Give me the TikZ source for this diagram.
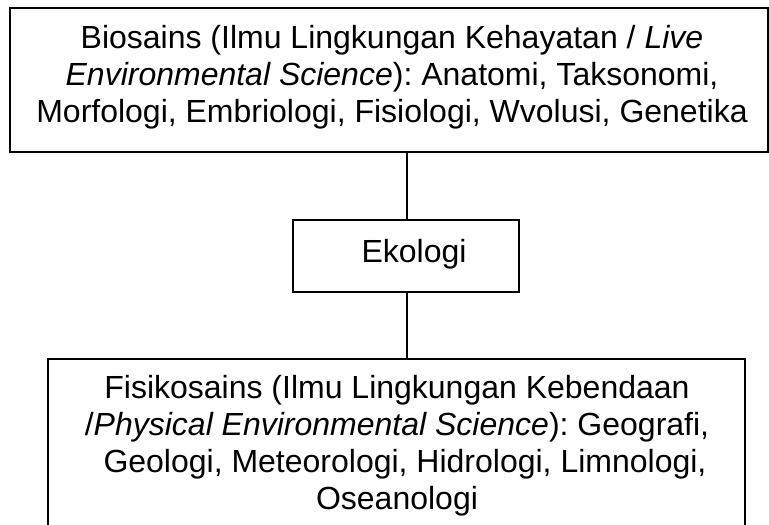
\documentclass[tikz,border=0pt]{standalone}
\usepackage{fontspec}
\setmainfont{Liberation Sans}
\begin{document}
\frenchspacing
\begin{tikzpicture}[x=1pt,y=-1pt,
  boxshape/.style={draw, line width=1.3pt, inner sep=0pt, rectangle},
  txt/.style={font=\fontsize{32}{37}\selectfont\frenchspacing, align=center, inner sep=0pt},
  link/.style={line width=1.3pt}]
\useasboundingbox (0,0) rectangle (769,525);
\fill[white] (0,0) rectangle (769,525);
% top box
\node[boxshape, minimum width=758pt, minimum height=144pt] (top) at (389,80) {};
\node[txt] (toptext) at (392,77) {Biosains (Ilmu Lingkungan Kehayatan / \textit{Live}\\
\textit{Environmental Science}): Anatomi, Taksonomi,\\
Morfologi, Embriologi, Fisiologi, Wvolusi, Genetika};
% middle box
\node[boxshape, minimum width=226pt, minimum height=72pt] (mid) at (406,256) {};
\node[txt, anchor=base] (midtext) at (414,262) {Ekologi};
% bottom box
\node[boxshape, minimum width=697pt, minimum height=174pt] (bot) at (396.5,446) {};
\node[txt] (bottext) at (397,446) {Fisikosains (Ilmu Lingkungan Kebendaan\\
/\textit{Physical Environmental Science}): Geografi,\\
\hspace*{16pt}Geologi, Meteorologi, Hidrologi, Limnologi,\\
Oseanologi};
% connectors
\coordinate (cx) at (407,0);
\draw[link] (top.south -| cx) -- (mid.north -| cx);
\draw[link] (mid.south -| cx) -- (bot.north -| cx);
\end{tikzpicture}
\end{document}
